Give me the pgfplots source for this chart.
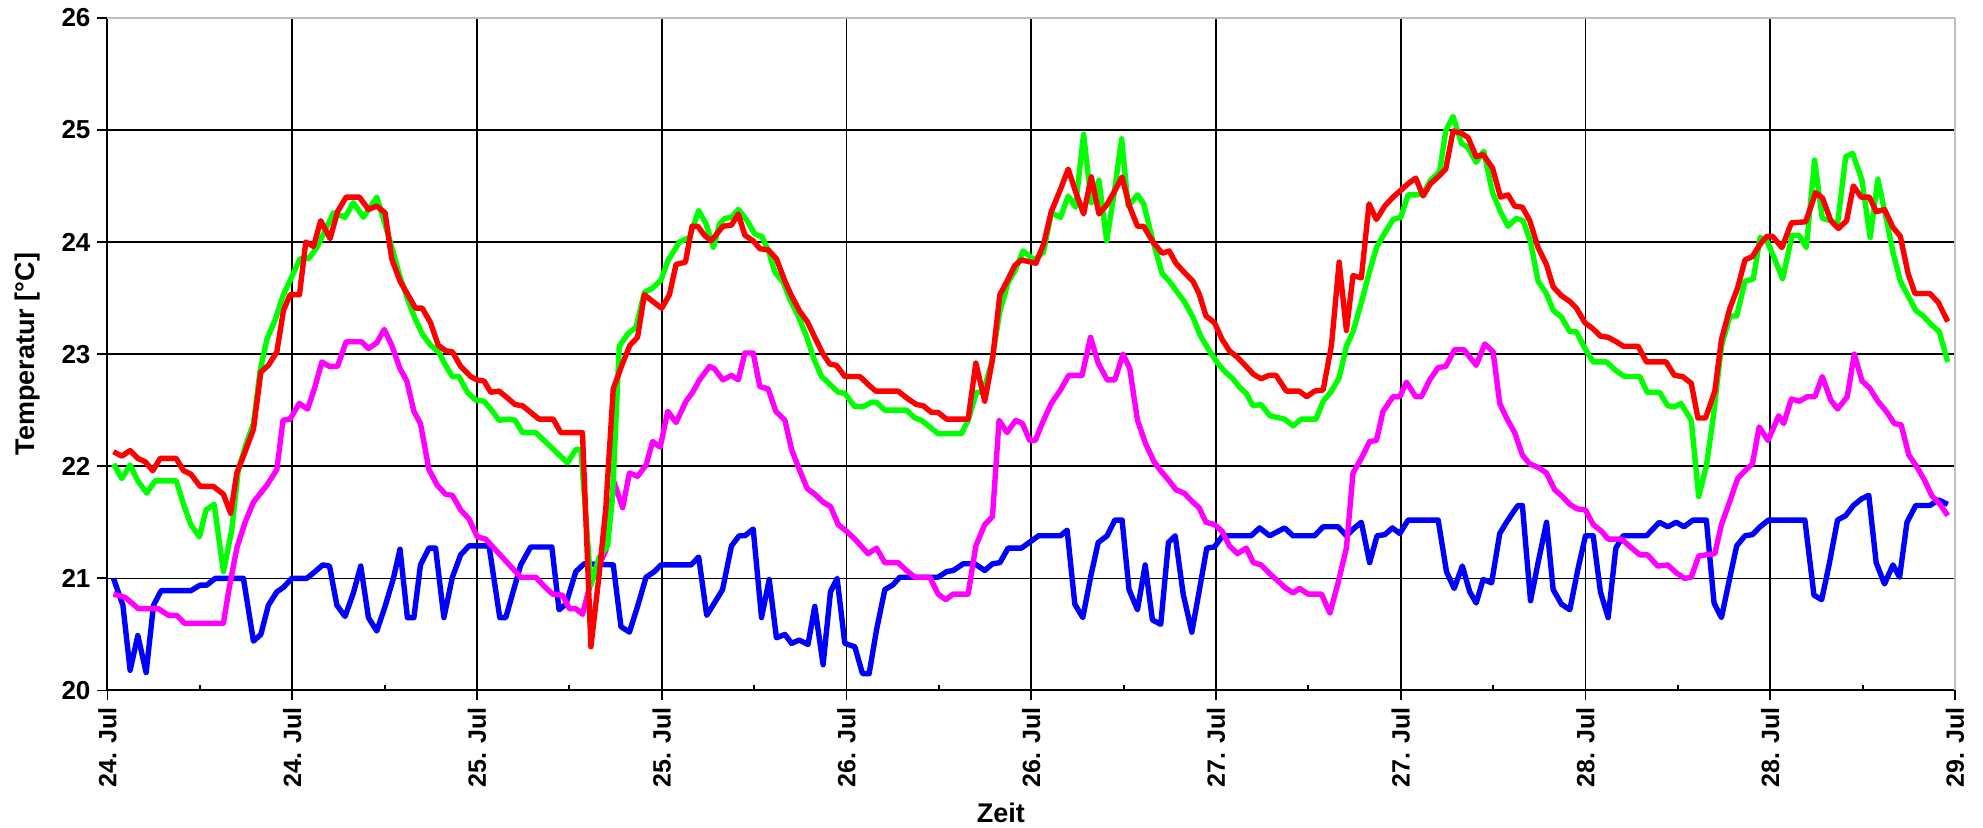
\documentclass[border=0pt]{standalone}
\usepackage{pgfplots}
\pgfplotsset{compat=1.18}
\usepackage{pgfplotstable}
\usepackage{fontspec}
\setmainfont{Liberation Sans}

\pgfplotstableread{
h T
0.39 22.13
0.93 22.09
1.47 22.14
1.97 22.07
2.45 22.04
2.94 21.96
3.42 22.07
4.46 22.07
4.94 21.96
5.41 21.93
6.02 21.82
6.88 21.82
7.53 21.75
8.00 21.58
8.40 21.94
8.94 22.13
9.48 22.33
9.96 22.84
10.45 22.90
11.00 23.02
11.43 23.39
11.86 23.53
12.47 23.53
12.88 24.00
13.38 23.96
13.85 24.19
14.46 24.03
14.94 24.27
15.50 24.40
16.36 24.40
16.95 24.29
17.49 24.32
18.03 24.26
18.46 23.85
19.00 23.65
19.55 23.52
20.00 23.41
20.44 23.41
20.98 23.28
21.48 23.08
21.96 23.03
22.40 23.02
22.94 22.89
23.59 22.80
24.00 22.77
24.46 22.76
24.89 22.66
25.43 22.67
25.97 22.61
26.47 22.55
26.95 22.54
27.49 22.48
28.03 22.42
28.95 22.42
29.44 22.30
30.85 22.30
31.40 20.39
31.94 21.04
32.37 21.63
32.85 22.69
33.46 22.92
33.94 23.08
34.43 23.15
34.87 23.53
35.41 23.47
36.00 23.41
36.50 23.53
36.93 23.80
37.54 23.82
37.97 24.14
38.34 24.14
38.77 24.06
39.21 24.01
39.97 24.14
40.53 24.15
40.97 24.25
41.40 24.06
41.94 24.01
42.37 23.94
42.91 23.93
43.45 23.85
44.00 23.65
44.43 23.52
44.97 23.38
45.45 23.29
45.94 23.15
46.48 23.00
46.92 22.91
47.35 22.90
47.89 22.80
48.87 22.80
49.40 22.73
49.90 22.67
51.35 22.67
52.00 22.60
52.55 22.55
52.98 22.54
53.52 22.48
53.95 22.48
54.50 22.42
55.90 22.42
56.40 22.92
56.98 22.58
57.48 22.95
57.96 23.53
58.43 23.65
58.93 23.79
59.36 23.84
60.30 23.81
60.80 23.98
61.30 24.27
61.90 24.47
62.40 24.65
62.90 24.44
63.40 24.25
63.90 24.58
64.40 24.25
64.90 24.33
65.40 24.45
65.90 24.58
66.35 24.33
66.90 24.14
67.30 24.14
67.90 24.00
68.50 23.90
68.96 23.92
69.40 23.81
69.93 23.73
70.50 23.65
70.90 23.54
71.35 23.34
71.90 23.28
72.40 23.13
72.87 23.03
73.40 22.97
73.96 22.89
74.43 22.82
74.93 22.78
75.43 22.81
75.90 22.81
76.57 22.67
77.40 22.67
77.90 22.62
78.40 22.67
78.96 22.68
79.50 23.08
80.00 23.82
80.47 23.21
80.90 23.70
81.44 23.68
81.94 24.34
82.42 24.20
82.96 24.32
83.50 24.40
84.00 24.46
84.48 24.52
84.97 24.57
85.45 24.41
85.93 24.52
86.43 24.58
86.92 24.65
87.40 24.99
87.94 24.97
88.38 24.93
88.90 24.76
89.35 24.78
89.96 24.66
90.48 24.40
90.97 24.42
91.40 24.32
91.90 24.31
92.38 24.19
92.92 23.95
93.46 23.80
93.90 23.60
94.44 23.52
94.98 23.47
95.41 23.41
95.96 23.28
96.45 23.23
96.97 23.16
97.47 23.15
98.00 23.11
98.45 23.07
99.42 23.07
99.96 22.93
101.23 22.93
101.78 22.81
102.30 22.80
102.87 22.74
103.30 22.43
103.80 22.43
104.40 22.67
104.83 23.13
105.38 23.41
105.88 23.59
106.36 23.84
106.84 23.87
107.34 23.98
107.78 24.05
108.15 24.05
108.76 23.95
109.37 24.17
110.30 24.18
110.95 24.44
111.40 24.39
111.93 24.19
112.43 24.12
112.96 24.19
113.40 24.50
113.90 24.40
114.44 24.40
114.88 24.27
115.42 24.29
115.97 24.13
116.45 24.05
116.95 23.72
117.40 23.54
118.37 23.54
118.92 23.46
119.53 23.29
}\redtab

\pgfplotstableread{
h T
0.39 22.02
0.93 21.89
1.47 22.01
1.97 21.87
2.55 21.76
3.10 21.87
4.46 21.87
4.94 21.66
5.41 21.48
5.97 21.37
6.40 21.61
6.93 21.66
7.53 21.06
8.07 21.43
8.50 21.97
9.05 22.22
9.48 22.38
9.90 22.84
10.35 23.13
10.90 23.31
11.40 23.52
11.97 23.69
12.50 23.85
13.05 23.85
13.60 23.95
14.68 24.26
15.43 24.22
15.97 24.35
16.62 24.22
17.49 24.40
18.35 24.01
19.00 23.69
19.57 23.46
20.00 23.31
20.44 23.18
20.98 23.08
21.50 23.02
21.96 22.90
22.40 22.80
22.83 22.80
23.37 22.66
23.91 22.59
24.46 22.58
24.89 22.51
25.43 22.41
26.08 22.42
26.47 22.41
26.95 22.30
27.82 22.30
29.88 22.03
30.42 22.15
30.75 22.15
31.40 20.94
31.94 21.19
32.48 21.29
32.80 21.73
33.24 23.07
33.79 23.18
34.33 23.24
34.87 23.55
35.41 23.59
35.95 23.66
36.39 23.83
37.15 24.00
37.80 24.04
38.40 24.28
38.88 24.16
39.36 23.95
39.75 24.16
40.10 24.21
40.53 24.22
40.97 24.29
41.50 24.20
42.05 24.07
42.50 24.05
42.91 23.93
43.35 23.73
43.89 23.64
44.32 23.49
44.86 23.34
45.40 23.16
45.90 22.95
46.38 22.80
46.92 22.73
47.46 22.66
47.89 22.65
48.54 22.53
49.08 22.53
49.62 22.57
49.95 22.57
50.49 22.50
51.90 22.50
52.44 22.43
52.87 22.41
53.41 22.35
53.95 22.29
55.47 22.29
55.90 22.41
56.44 22.66
56.87 22.66
57.42 22.92
57.96 23.38
58.50 23.64
58.93 23.74
59.47 23.92
60.20 23.84
60.80 23.91
61.30 24.26
61.90 24.22
62.40 24.41
62.87 24.31
63.40 24.96
63.90 24.35
64.40 24.55
64.90 24.01
65.40 24.45
65.87 24.92
66.30 24.32
66.90 24.42
67.30 24.34
67.90 24.01
68.50 23.72
68.96 23.65
69.50 23.55
69.93 23.47
70.50 23.33
71.00 23.16
71.57 23.03
72.10 22.92
72.60 22.84
73.10 22.78
73.50 22.71
73.96 22.65
74.40 22.54
74.93 22.55
75.50 22.45
76.46 22.42
77.00 22.36
77.54 22.42
78.50 22.42
78.96 22.58
79.50 22.67
80.00 22.79
80.47 23.07
80.90 23.20
81.44 23.46
81.94 23.72
82.42 23.95
82.96 24.08
83.50 24.20
84.00 24.22
84.48 24.42
84.97 24.42
85.45 24.43
85.93 24.55
86.53 24.63
86.92 24.99
87.40 25.12
87.94 24.88
88.38 24.84
88.90 24.71
89.39 24.81
89.96 24.44
90.48 24.27
90.97 24.14
91.50 24.21
91.95 24.19
92.43 24.00
92.92 23.65
93.46 23.54
93.90 23.39
94.44 23.33
94.98 23.20
95.41 23.20
95.96 23.05
96.50 22.93
97.36 22.93
98.00 22.85
98.55 22.80
99.53 22.80
100.00 22.66
100.80 22.66
101.34 22.54
101.78 22.53
102.20 22.56
102.87 22.41
103.35 21.73
103.85 22.00
104.29 22.43
104.83 23.07
105.38 23.34
105.82 23.34
106.36 23.65
106.90 23.67
107.34 24.04
107.78 24.01
108.28 23.85
108.80 23.67
109.42 24.06
109.86 24.06
110.34 23.95
110.88 24.73
111.38 24.21
111.93 24.19
112.37 24.16
112.90 24.76
113.35 24.79
113.96 24.55
114.49 24.04
114.99 24.56
115.53 24.21
115.97 23.91
116.45 23.65
116.95 23.52
117.45 23.39
117.93 23.34
118.48 23.26
118.98 23.20
119.53 22.93
}\greentab

\pgfplotstableread{
h T
0.39 20.86
1.15 20.83
2.00 20.73
3.30 20.73
3.96 20.67
4.50 20.67
5.00 20.60
7.53 20.60
7.86 20.88
8.40 21.27
8.94 21.50
9.48 21.68
10.35 21.83
11.00 21.97
11.40 22.41
11.86 22.42
12.45 22.56
13.00 22.51
13.48 22.71
13.92 22.93
14.42 22.89
14.94 22.89
15.50 23.11
16.50 23.11
16.95 23.05
17.49 23.10
17.97 23.22
18.46 23.08
19.00 22.87
19.44 22.76
19.90 22.49
20.33 22.38
20.88 21.97
21.42 21.83
21.96 21.75
22.40 21.74
22.94 21.61
23.48 21.53
24.02 21.37
24.56 21.35
26.84 21.01
27.82 21.01
28.36 20.93
28.90 20.86
29.55 20.85
29.99 20.73
30.42 20.73
30.85 20.68
31.40 20.97
31.94 21.12
32.37 21.25
32.90 21.86
33.46 21.63
33.90 21.94
34.43 21.91
34.98 22.01
35.41 22.22
35.90 22.17
36.39 22.49
36.93 22.39
37.58 22.58
38.01 22.66
38.45 22.77
39.10 22.89
39.42 22.87
39.97 22.77
40.53 22.81
40.97 22.77
41.40 23.01
41.94 23.01
42.37 22.71
42.91 22.69
43.41 22.49
44.00 22.41
44.43 22.15
44.97 21.96
45.45 21.80
45.94 21.75
46.48 21.68
46.96 21.64
47.46 21.48
48.00 21.42
48.54 21.35
49.40 21.22
49.95 21.27
50.49 21.14
51.35 21.14
51.90 21.07
52.44 21.01
53.41 21.01
53.95 20.86
54.45 20.81
54.93 20.86
55.90 20.86
56.40 21.29
56.98 21.48
57.48 21.55
57.91 22.41
58.43 22.30
58.99 22.41
59.43 22.38
59.90 22.23
60.26 22.23
60.80 22.41
61.30 22.56
61.90 22.68
62.43 22.81
63.30 22.81
63.85 23.15
64.35 22.92
64.93 22.77
65.43 22.77
65.96 23.00
66.40 22.87
66.90 22.41
67.43 22.20
67.98 22.04
68.40 21.96
68.96 21.87
69.40 21.79
69.93 21.76
70.50 21.68
70.90 21.63
71.35 21.50
71.90 21.48
72.40 21.42
72.87 21.29
73.40 21.22
73.96 21.27
74.43 21.14
74.93 21.12
75.50 21.04
76.00 20.98
76.46 20.92
77.00 20.87
77.43 20.91
77.98 20.86
78.85 20.86
79.40 20.69
79.93 20.96
80.47 21.27
80.90 21.94
81.44 22.07
81.98 22.22
82.42 22.23
82.85 22.49
83.50 22.62
83.94 22.62
84.37 22.75
84.97 22.62
85.34 22.62
85.88 22.77
86.43 22.88
86.92 22.89
87.50 23.04
88.10 23.04
88.90 22.90
89.46 23.09
90.00 23.02
90.43 22.56
90.87 22.43
91.40 22.30
91.90 22.10
92.38 22.02
92.92 21.99
93.46 21.94
94.00 21.79
94.50 21.73
94.98 21.66
95.46 21.62
96.00 21.61
96.50 21.48
97.04 21.42
97.47 21.35
98.34 21.35
99.00 21.27
99.53 21.21
100.03 21.21
100.69 21.11
101.34 21.12
101.89 21.05
102.43 21.00
102.87 21.01
103.35 21.20
103.85 21.21
104.40 21.22
104.83 21.48
105.38 21.69
105.88 21.89
106.36 21.96
106.84 22.02
107.28 22.35
107.85 22.23
108.55 22.45
108.87 22.38
109.37 22.60
109.90 22.58
110.40 22.62
110.90 22.62
111.38 22.80
111.93 22.59
112.37 22.51
113.00 22.62
113.46 23.00
113.96 22.76
114.44 22.70
114.99 22.58
115.53 22.49
116.07 22.38
116.50 22.37
117.00 22.10
117.50 22.00
118.04 21.87
118.48 21.74
119.03 21.66
119.53 21.56
}\magtab

\pgfplotstableread{
h T
0.39 21.00
1.00 20.76
1.47 20.18
1.97 20.49
2.51 20.16
2.99 20.76
3.48 20.89
5.41 20.89
6.02 20.94
6.45 20.94
7.00 21.00
8.83 21.00
9.48 20.44
9.96 20.50
10.45 20.76
11.00 20.88
11.43 20.92
11.97 21.00
12.94 21.00
13.48 21.06
13.98 21.12
14.42 21.11
14.90 20.76
15.43 20.66
15.97 20.87
16.45 21.11
16.95 20.65
17.49 20.53
18.03 20.75
18.57 21.00
19.00 21.26
19.48 20.65
19.90 20.65
20.33 21.12
20.88 21.27
21.31 21.27
21.85 20.65
22.40 21.01
22.94 21.21
23.48 21.29
24.78 21.29
25.48 20.65
25.87 20.65
26.84 21.12
27.49 21.28
28.86 21.28
29.33 20.72
29.77 20.77
30.42 21.06
30.96 21.13
32.85 21.12
33.35 20.57
33.90 20.52
34.43 20.75
34.98 21.01
35.52 21.06
35.95 21.12
37.90 21.12
38.40 21.19
38.92 20.67
39.42 20.78
39.95 20.90
40.53 21.29
41.03 21.38
41.40 21.38
41.94 21.44
42.48 20.65
42.98 20.99
43.45 20.47
44.00 20.50
44.43 20.42
44.93 20.45
45.50 20.41
45.94 20.75
46.48 20.23
46.96 20.88
47.39 21.00
47.89 20.42
48.54 20.39
49.04 20.15
49.47 20.15
49.95 20.54
50.49 20.90
51.00 20.94
51.46 21.01
53.95 21.01
54.50 21.06
54.93 21.07
55.58 21.13
56.33 21.13
56.98 21.07
57.48 21.13
57.96 21.14
58.50 21.27
59.36 21.27
60.48 21.38
61.90 21.38
62.33 21.43
62.83 20.77
63.35 20.65
63.85 21.01
64.35 21.32
64.93 21.38
65.43 21.52
65.90 21.52
66.35 20.90
66.90 20.72
67.40 21.12
67.87 20.63
68.41 20.59
68.91 21.32
69.35 21.38
69.87 20.86
70.43 20.52
70.90 20.88
71.40 21.27
71.90 21.28
72.43 21.38
74.28 21.38
74.83 21.45
75.48 21.38
76.46 21.45
77.00 21.38
78.40 21.38
78.96 21.46
79.93 21.46
80.47 21.38
81.00 21.45
81.44 21.50
81.98 21.14
82.46 21.38
82.96 21.39
83.46 21.45
83.94 21.40
84.48 21.52
86.43 21.52
86.97 21.06
87.47 20.91
88.00 21.11
88.48 20.88
88.90 20.78
89.35 20.99
89.90 20.96
90.43 21.40
90.87 21.50
91.30 21.59
91.62 21.65
91.90 21.65
92.43 20.80
92.92 21.14
93.47 21.50
93.90 20.90
94.44 20.77
94.98 20.72
95.52 21.09
96.00 21.38
96.50 21.38
96.97 20.88
97.47 20.65
97.97 21.27
98.45 21.38
99.96 21.38
100.80 21.50
101.34 21.46
101.89 21.50
102.40 21.46
102.98 21.52
103.85 21.52
104.35 20.78
104.83 20.65
105.38 21.01
105.82 21.29
106.36 21.38
106.84 21.39
107.34 21.46
107.89 21.52
110.25 21.52
110.84 20.85
111.34 20.81
111.82 21.12
112.37 21.52
112.90 21.56
113.40 21.65
113.94 21.71
114.40 21.74
114.88 21.14
115.42 20.95
115.97 21.12
116.40 21.01
116.88 21.50
117.45 21.65
118.37 21.65
118.92 21.70
119.53 21.66
}\bluetab

\begin{document}
\begin{tikzpicture}
\path[use as bounding box] (-53.75pt,-68.75pt) rectangle (937.75pt,345.25pt);
\begin{axis}[
  scale only axis,
  width=923.75pt, height=336.4pt,
  xmin=0, xmax=120, ymin=20, ymax=26,
  axis x line*=bottom, axis y line*=left,
  axis line style={black, line width=1pt},
  xtick={0,12,...,120},
  xticklabels={24. Jul,24. Jul,25. Jul,25. Jul,26. Jul,26. Jul,27. Jul,27. Jul,28. Jul,28. Jul,29. Jul},
  ytick={20,21,...,26},
  extra x ticks={6,18,...,114},
  extra x tick labels={},
  extra x tick style={grid=none, tick align=inside, major tick length=2.75pt},
  tick align=outside,
  major tick length=5pt,
  every tick/.style={black, line width=0.9pt},
  grid=major,
  major grid style={black, line width=0.8pt},
  /pgf/number format/assume math mode=true,
  xticklabel style={rotate=90, anchor=east, font=\fontsize{12.5}{14}\selectfont\bfseries},
  yticklabel style={font=\fontsize{13}{15}\selectfont\bfseries},
  xlabel={Zeit},
  ylabel={Temperatur [°C]},
  xlabel style={at={(axis description cs:0.4835,-0.1965)}, anchor=base, font=\fontsize{13.5}{15}\selectfont\bfseries},
  ylabel style={at={(axis description cs:-0.04303,0.5)}, anchor=center, font=\fontsize{13.5}{15}\selectfont\bfseries},
  clip=false,
  line join=round,
]
\addplot[draw={rgb,255:red,0;green,0;blue,255}, line width=2.7pt, no markers] table[x=h,y=T] {\bluetab};
\addplot[draw={rgb,255:red,255;green,0;blue,255}, line width=2.7pt, no markers] table[x=h,y=T] {\magtab};
\addplot[draw={rgb,255:red,0;green,255;blue,0}, line width=2.7pt, no markers] table[x=h,y=T] {\greentab};
\addplot[draw={rgb,255:red,255;green,0;blue,0}, line width=2.7pt, no markers] table[x=h,y=T] {\redtab};
\draw[black!25, line width=0.8pt] (rel axis cs:0,1) -- (rel axis cs:1,1) -- (rel axis cs:1,0);
\end{axis}
\end{tikzpicture}
\end{document}
